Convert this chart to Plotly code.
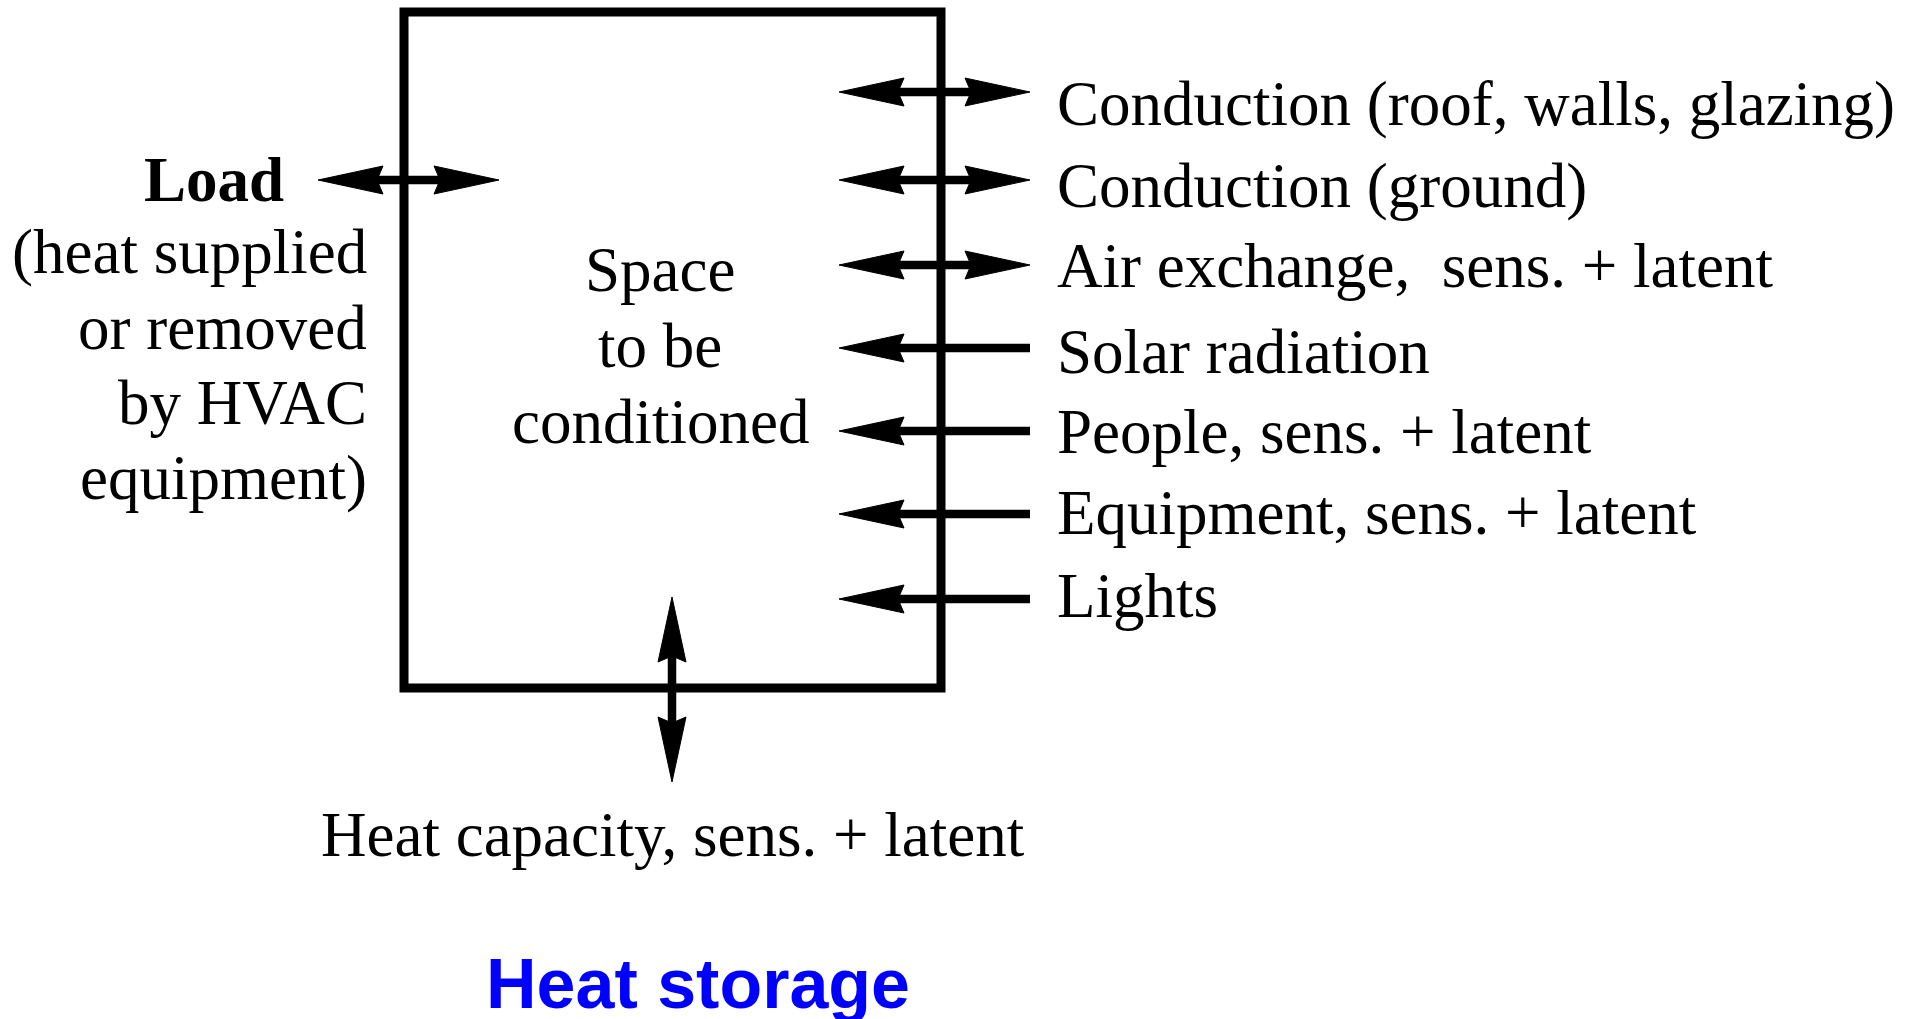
import plotly.graph_objects as go

W, H = 1916, 1019

# ---- data (pixel-space diagram coordinates) ----
box_x = [404, 941]
box_y = [12, 688]

right_labels = ["Conduction (roof, walls, glazing)", "Conduction (ground)",
                "Air exchange,  sens. + latent", "Solar radiation",
                "People, sens. + latent", "Equipment, sens. + latent", "Lights"]
right_y = [92, 180, 265, 348, 431, 514, 599]
right_text_y = [104, 186, 266, 352, 432, 513, 596]
right_double = [True, True, True, False, False, False, False]
right_arrow_x = [839, 1030]
right_label_x = 1055

load_lines = ["<b>Load</b>", "(heat supplied", "or removed", "by HVAC", "equipment)"]
load_line_y = [180, 252, 328, 403, 478]
load_line_x = [286, 369, 369, 369, 369]
load_arrow_x = [318, 499]
load_arrow_y = 180

center_lines = ["Space", "to be", "conditioned"]
center_y = [270, 346, 422]
center_x = 660

storage_arrow_x = 672
storage_arrow_y = [597, 782]
storage_label = "Heat capacity, sens. + latent"
storage_label_xy = (673, 835)
title_text = "Heat storage"
title_xy = (698, 984)

SERIF = "Liberation Serif, Times New Roman, serif"
FS = 63
HEAD_L = 65
HEAD_W = 14
NOTCH = 59
LW = 8.5

fig = go.Figure()
shapes = []


def head(tx, ty, dx, dy):
    # tip at (tx,ty), pointing in direction (dx,dy) (unit vector)
    px, py = -dy, dx
    bx, by = tx - dx * HEAD_L, ty - dy * HEAD_L
    nx, ny = tx - dx * NOTCH, ty - dy * NOTCH
    pts = [(tx, ty), (bx + px * HEAD_W, by + py * HEAD_W), (nx, ny),
           (bx - px * HEAD_W, by - py * HEAD_W)]
    path = "M " + " L ".join(f"{x},{y}" for x, y in pts) + " Z"
    shapes.append(dict(type="path", path=path, xref="x", yref="y",
                       fillcolor="black", line=dict(color="black", width=1)))


def seg(x0, y0, x1, y1):
    shapes.append(dict(type="line", x0=x0, y0=y0, x1=x1, y1=y1, xref="x", yref="y",
                       line=dict(color="black", width=LW)))


# box
shapes.append(dict(type="rect", x0=box_x[0], x1=box_x[1], y0=box_y[0], y1=box_y[1],
                   xref="x", yref="y", line=dict(color="black", width=9)))

# right arrows
for y, dbl in zip(right_y, right_double):
    x0, x1 = right_arrow_x
    seg(x0 + NOTCH - 10, y, x1 - (NOTCH - 10 if dbl else 0), y)
    head(x0, y, -1, 0)
    if dbl:
        head(x1, y, 1, 0)

# load arrow
seg(load_arrow_x[0] + NOTCH - 10, load_arrow_y, load_arrow_x[1] - NOTCH + 10, load_arrow_y)
head(load_arrow_x[0], load_arrow_y, -1, 0)
head(load_arrow_x[1], load_arrow_y, 1, 0)

# storage arrow
seg(storage_arrow_x, storage_arrow_y[0] + NOTCH - 10, storage_arrow_x, storage_arrow_y[1] - NOTCH + 10)
head(storage_arrow_x, storage_arrow_y[0], 0, -1)
head(storage_arrow_x, storage_arrow_y[1], 0, 1)

ann = []
for t, y in zip(right_labels, right_text_y):
    ann.append(dict(x=right_label_x, y=y, text=t, xanchor="left", yanchor="middle",
                    font=dict(family=SERIF, size=FS, color="black")))
for t, x, y in zip(load_lines, load_line_x, load_line_y):
    ann.append(dict(x=x, y=y, text=t, xanchor="right", yanchor="middle",
                    font=dict(family=SERIF, size=FS, color="black")))
for t, y in zip(center_lines, center_y):
    ann.append(dict(x=center_x, y=y, text=t, xanchor="center", yanchor="middle",
                    font=dict(family=SERIF, size=FS, color="black")))
ann.append(dict(x=storage_label_xy[0], y=storage_label_xy[1], text=storage_label,
                xanchor="center", yanchor="middle",
                font=dict(family=SERIF, size=FS, color="black")))
ann.append(dict(x=title_xy[0], y=title_xy[1], text=f"<b>{title_text}</b>",
                xanchor="center", yanchor="middle",
                font=dict(family="Liberation Sans, Arial, sans-serif", size=70, color="#0000FF")))
for a in ann:
    a.update(xref="x", yref="y", showarrow=False)

fig.update_layout(
    width=W, height=H, margin=dict(l=0, r=0, t=0, b=0),
    paper_bgcolor="white", plot_bgcolor="white",
    xaxis=dict(range=[0, W], visible=False, fixedrange=True),
    yaxis=dict(range=[H, 0], visible=False, fixedrange=True),
    shapes=shapes, annotations=ann, showlegend=False,
)

fig.write_html("out.html", config={"displayModeBar": False},
               post_script="document.body.style.margin='0px';document.body.style.overflow='hidden';")
